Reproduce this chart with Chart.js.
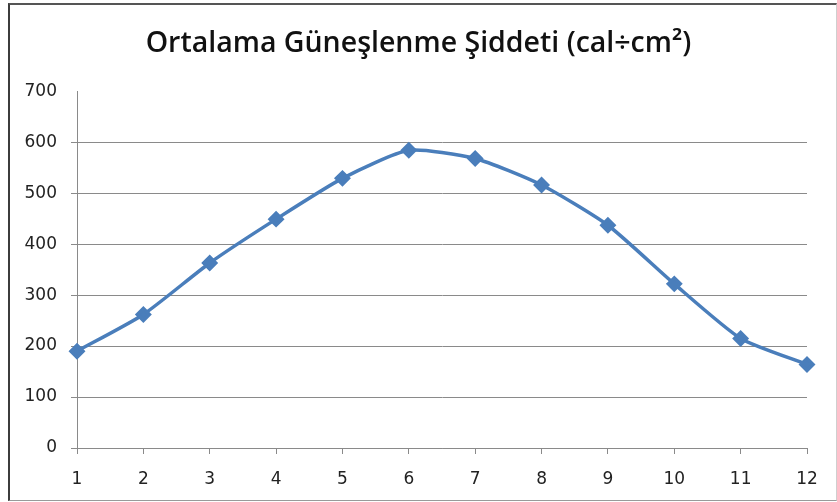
<!DOCTYPE html>
<html>
<head>
<meta charset="utf-8">
<script src="https://cdn.jsdelivr.net/npm/chart.js@4/dist/chart.umd.min.js"></script>
<style>
  body { margin: 0; background: #fff; }
  #frame { position: absolute; left: 8px; top: 3px; width: 826px; height: 495px;
           border-left: 2px solid #3c3c3c; border-top: 2px solid #555;
           border-right: 1px solid #cfcfcf; border-bottom: 1px solid #9a9a9a; }
  #wrap { position: absolute; left: 0; top: 0; width: 837px; height: 502px; }
</style>
</head>
<body>
<div id="frame"></div>
<div id="wrap"><canvas id="gunes"></canvas></div>
<script>
const months = ['1', '2', '3', '4', '5', '6', '7', '8', '9', '10', '11', '12'];
const siddet = [190, 262, 363, 449, 529, 584, 568, 516, 437, 322, 215, 164];
const yTicks = [0, 100, 200, 300, 400, 500, 600, 700];

const ctx = document.getElementById('gunes').getContext('2d');
const gunes = new Chart(ctx, {
    type: 'line',
    data: {
        labels: months,
        datasets: [{
            label: 'Ortalama Güneşlenme Şiddeti',
            data: siddet,
            borderColor: '#4a7ebb',
            backgroundColor: '#4a7ebb',
            borderWidth: 3.5,
            pointStyle: 'rectRot',
            pointRadius: 6,
            tension: 0.2
        }]
    },
    options: {
        responsive: true,
        maintainAspectRatio: false,
        animation: false,
        layout: { padding: { left: 0, right: 0, top: 0, bottom: 10 } },
        plugins: {
            legend: { display: false },
            tooltip: { enabled: false },
            title: {
                display: true,
                text: 'Ortalama Güneşlenme Şiddeti (cal÷cm²)',
                color: '#111',
                font: { family: 'Open Sans', size: 28.5, weight: '600' },
                padding: { top: 27, bottom: 30 }
            }
        },
        scales: {
            x: {
                offset: false,
                grid: { drawOnChartArea: false, drawTicks: true, tickLength: 6, color: '#8a8a8a' },
                border: { color: '#8a8a8a', width: 1 },
                ticks: { color: '#222', padding: 15, maxRotation: 0,
                         font: { family: 'DejaVu Sans', size: 17 } },
                afterFit: s => { s.height = 44; }
            },
            y: {
                min: 0,
                max: 700,
                afterBuildTicks: s => { s.ticks = yTicks.map(v => ({ value: v })); },
                grid: {
                    color: c => (c.tick && c.tick.value === 700) ? 'rgba(0,0,0,0)' : '#8a8a8a',
                    tickLength: 6
                },
                border: { color: '#8a8a8a', width: 1 },
                ticks: { color: '#222', padding: 14,
                         font: { family: 'DejaVu Sans', size: 17 } },
                afterFit: s => { s.width = 77; }
            },
            // empty right-hand axis, only keeps a margin so the title stays centred on the page
            yRight: {
                position: 'right',
                min: 0,
                max: 700,
                grid: { display: false },
                border: { display: false },
                ticks: { display: false },
                afterFit: s => { s.width = 30; }
            }
        }
    }
});
</script>
</body>
</html>
